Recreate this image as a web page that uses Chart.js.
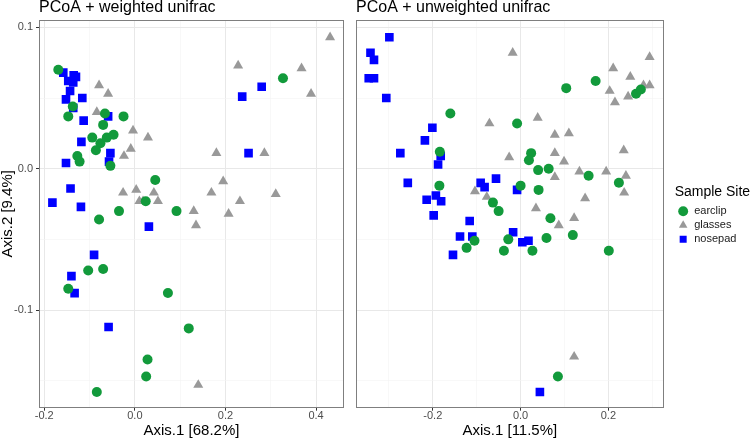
<!DOCTYPE html>
<html>
<head>
<meta charset="utf-8">
<script src="https://cdn.jsdelivr.net/npm/chart.js@4.4.1/dist/chart.umd.min.js"></script>
<style>
  html, body { margin: 0; padding: 0; background: #fff; }
  #wrap { position: relative; width: 750px; height: 438px; overflow: hidden; }
  .panel { position: absolute; top: 0; height: 438px; }
</style>
</head>
<body>
<div id="wrap">
  <div class="panel" style="left:0;width:350px"><canvas id="weighted"></canvas></div>
  <div class="panel" style="left:348px;width:402px"><canvas id="unweighted"></canvas></div>
</div>
<script>
var sites = ['earclip', 'glasses', 'nosepad'];
var siteColors = ['#129a3b', '#999999', '#0000ff'];
var siteShapes = ['circle', 'triangle', 'rect'];
var siteSizes = [5, 5.8, 6.1];

// PCoA + weighted unifrac  [Axis.1, Axis.2]
var weightedEarclip = [
  [-0.169, 0.070], [0.327, 0.064], [-0.137, 0.044], [-0.147, 0.037], [-0.066, 0.039],
  [-0.025, 0.037], [-0.070, 0.031], [-0.094, 0.022], [-0.076, 0.018], [-0.062, 0.022],
  [-0.047, 0.024], [-0.086, 0.013], [-0.127, 0.009], [-0.122, 0.005], [-0.054, 0.002],
  [0.045, -0.008], [0.024, -0.023], [-0.035, -0.030], [0.092, -0.030], [-0.079, -0.036],
  [-0.103, -0.072], [-0.070, -0.071], [-0.147, -0.085], [0.073, -0.088], [0.119, -0.113],
  [0.028, -0.135], [0.025, -0.147], [-0.084, -0.158]
];
var weightedGlasses = [
  [0.431, 0.093], [0.228, 0.073], [0.368, 0.071], [0.389, 0.053], [-0.079, 0.059],
  [-0.059, 0.053], [-0.084, 0.040], [-0.004, 0.027], [0.029, 0.022], [-0.009, 0.014],
  [-0.024, 0.009], [0.180, 0.011], [0.286, 0.011], [0.195, -0.009], [-0.026, -0.017],
  [0.003, -0.015], [0.042, -0.017], [0.169, -0.017], [0.311, -0.018], [0.010, -0.023],
  [0.018, -0.023], [0.051, -0.023], [0.232, -0.023], [0.130, -0.030], [0.207, -0.032],
  [0.135, -0.040], [0.140, -0.153]
];
var weightedNosepad = [
  [-0.158, 0.068], [-0.135, 0.066], [-0.147, 0.062], [-0.136, 0.061], [-0.130, 0.065],
  [-0.143, 0.055], [-0.152, 0.049], [-0.116, 0.050], [-0.136, 0.043], [-0.059, 0.037],
  [-0.113, 0.034], [-0.118, 0.019], [-0.054, 0.011], [-0.057, 0.005], [-0.152, 0.004],
  [-0.142, -0.014], [-0.182, -0.024], [-0.119, -0.027], [0.237, 0.051], [0.280, 0.058],
  [0.251, 0.011], [0.031, -0.041], [-0.090, -0.061], [-0.140, -0.076], [-0.133, -0.088],
  [-0.058, -0.112]
];

// PCoA + unweighted unifrac  [Axis.1, Axis.2]
var unweightedEarclip = [
  [0.104, 0.057], [0.171, 0.062], [0.263, 0.053], [0.274, 0.056], [-0.160, 0.039],
  [-0.008, 0.032], [-0.184, 0.012], [0.024, 0.011], [0.019, 0.006], [0.040, -0.001],
  [0.064, 0.000], [0.155, -0.005], [0.224, -0.010], [-0.185, -0.012], [0.000, -0.012],
  [0.041, -0.015], [-0.063, -0.024], [-0.050, -0.030], [0.068, -0.035], [0.119, -0.047],
  [0.059, -0.049], [-0.028, -0.050], [-0.105, -0.051], [-0.123, -0.056], [-0.038, -0.058],
  [0.027, -0.058], [0.201, -0.058], [0.085, -0.147]
];
var unweightedGlasses = [
  [-0.018, 0.082], [0.294, 0.079], [0.211, 0.071], [0.250, 0.065], [0.280, 0.059],
  [0.294, 0.059], [0.203, 0.055], [0.245, 0.051], [0.215, 0.047], [0.039, 0.036],
  [-0.071, 0.032], [0.078, 0.024], [0.110, 0.025], [0.078, 0.011], [0.235, 0.013],
  [-0.026, 0.008], [0.099, 0.005], [0.134, -0.002], [0.195, -0.002], [0.240, -0.005],
  [0.078, -0.006], [-0.104, -0.016], [0.236, -0.017], [-0.077, -0.020], [0.147, -0.021],
  [0.035, -0.028], [0.122, -0.035], [0.087, -0.040], [0.122, -0.133]
];
var unweightedNosepad = [
  [-0.299, 0.093], [-0.342, 0.082], [-0.334, 0.077], [-0.346, 0.064], [-0.334, 0.064],
  [-0.306, 0.050], [-0.201, 0.029], [-0.218, 0.020], [-0.274, 0.011], [-0.182, 0.009],
  [-0.188, 0.003], [-0.257, -0.010], [-0.091, -0.010], [-0.082, -0.013], [-0.056, -0.007],
  [-0.214, -0.022], [-0.193, -0.019], [-0.181, -0.023], [-0.198, -0.033], [-0.008, -0.015],
  [-0.116, -0.037], [-0.138, -0.048], [-0.110, -0.048], [-0.154, -0.061], [-0.017, -0.045],
  [0.004, -0.052], [0.018, -0.051], [0.044, -0.158]
];

// axis limits and breaks
var weightedXRange = [-0.2116, 0.4615];
var unweightedXRange = [-0.375, 0.326];
var yRange = [-0.1691, 0.1052];
var xStep = 0.1;   // labels every 0.2
var yStep = 0.05;  // labels every 0.1

var FONT = "'Liberation Sans', Arial, Helvetica, sans-serif";
var borderGrey = '#7f7f7f';

isMajor = (v, step) => Math.round(v / step) % 2 === 0;

fmt = (v) => Math.abs(v) < 1e-9 ? '0.0' : v.toFixed(1);

makeDatasets = (series) => series.map((pts, i) => ({
    label: sites[i],
    data: pts.map(p => ({x: p[0], y: p[1]})),
    pointStyle: siteShapes[i],
    pointRadius: siteSizes[i],
    pointBackgroundColor: siteColors[i],
    backgroundColor: siteColors[i],
    borderColor: siteColors[i],
    pointBorderWidth: 0,
    borderWidth: 0
}));

gridOpts = (step, withTicks) => ({
    color: c => isMajor(c.tick.value, step) ? '#e8e8e8' : '#f3f3f3',
    lineWidth: c => isMajor(c.tick.value, step) ? 1 : 0.6,
    drawTicks: withTicks,
    tickLength: 3,
    tickColor: c => isMajor(c.tick.value, step) ? '#333333' : 'rgba(0,0,0,0)'
});

frameAxis = (position, range, size) => ({
    type: 'linear',
    position: position,
    min: range[0],
    max: range[1],
    ticks: {display: false},
    grid: {display: false, drawTicks: false},
    border: {display: true, color: borderGrey, width: 1},
    afterFit: s => {
        if (position === 'top' || position === 'bottom') s.height = size; else s.width = size;
    }
});

xAxis = (range, title) => ({
    type: 'linear',
    position: 'bottom',
    min: range[0],
    max: range[1],
    ticks: {
        stepSize: xStep,
        includeBounds: false,
        autoSkip: false,
        maxRotation: 0,
        padding: 0,
        color: '#4d4d4d',
        font: {family: FONT, size: 11, lineHeight: 1},
        callback: v => isMajor(v, xStep) ? fmt(v) : ''
    },
    grid: gridOpts(xStep, true),
    border: {display: true, color: borderGrey, width: 1},
    title: {
        display: true,
        text: title,
        color: '#000',
        font: {family: FONT, size: 15, lineHeight: 1},
        padding: {top: 0, bottom: 0}
    },
    afterFit: s => { s.height = 30.3; }
});

yAxis = (withLabels, width) => ({
    type: 'linear',
    position: 'left',
    min: yRange[0],
    max: yRange[1],
    ticks: {
        display: withLabels,
        stepSize: yStep,
        includeBounds: false,
        autoSkip: false,
        padding: 3,
        color: '#4d4d4d',
        font: {family: FONT, size: 11, lineHeight: 1},
        callback: v => isMajor(v, yStep) ? fmt(v) : ''
    },
    grid: gridOpts(yStep, withLabels),
    border: {display: true, color: borderGrey, width: 1},
    title: {
        display: withLabels,
        text: 'Axis.2 [9.4%]',
        color: '#000',
        font: {family: FONT, size: 15, lineHeight: 1},
        padding: {top: 0, bottom: 0}
    },
    afterFit: s => { s.width = width; }
});

// the legend box is clipped to its fitted width, which ignores the title width
var legendRoom = {
    id: 'legendRoom',
    afterLayout: (chart) => {
        if (chart.legend && chart.options.plugins.legend.display) {
            chart.legend.right += 20;
            chart.legend.width += 20;
        }
    }
};

plotPanel = (canvasId, series, xRange, title, xTitle, isLeft) => {
    var ctx = document.getElementById(canvasId).getContext('2d');
    return new Chart(ctx, {
        type: 'scatter',
        data: {datasets: makeDatasets(series)},
        plugins: [legendRoom],
        options: {
            responsive: true,
            maintainAspectRatio: false,
            animation: false,
            events: [],
            layout: {padding: {left: 0, right: isLeft ? 0 : 10, top: 0, bottom: 0}},
            scales: {
                x: xAxis(xRange, xTitle),
                x2: frameAxis('top', xRange, 0),
                y: yAxis(isLeft, isLeft ? 39 : 8),
                y2: frameAxis('right', yRange, isLeft ? 5 : 11)
            },
            plugins: {
                tooltip: {enabled: false},
                title: {
                    display: true,
                    text: title,
                    align: 'start',
                    fullSize: false,
                    color: '#000',
                    font: {family: FONT, size: 16, weight: 'normal', lineHeight: 1},
                    padding: {top: 0, bottom: 4}
                },
                legend: {
                    display: !isLeft,
                    position: 'right',
                    align: 'center',
                    fullSize: false,
                    title: {
                        display: true,
                        text: 'Sample Site',
                        position: 'start',
                        color: '#000',
                        font: {family: FONT, size: 14, lineHeight: 1},
                        padding: {top: 5, bottom: 3.8}
                    },
                    labels: {
                        usePointStyle: true,
                        boxHeight: 7,
                        padding: 3,
                        color: '#1a1a1a',
                        font: {family: FONT, size: 11}
                    }
                }
            }
        }
    });
}

plotPanel('weighted', [weightedEarclip, weightedGlasses, weightedNosepad],
    weightedXRange, 'PCoA + weighted unifrac', 'Axis.1 [68.2%]', true);
plotPanel('unweighted', [unweightedEarclip, unweightedGlasses, unweightedNosepad],
    unweightedXRange, 'PCoA + unweighted unifrac', 'Axis.1 [11.5%]', false);
</script>
</body>
</html>
